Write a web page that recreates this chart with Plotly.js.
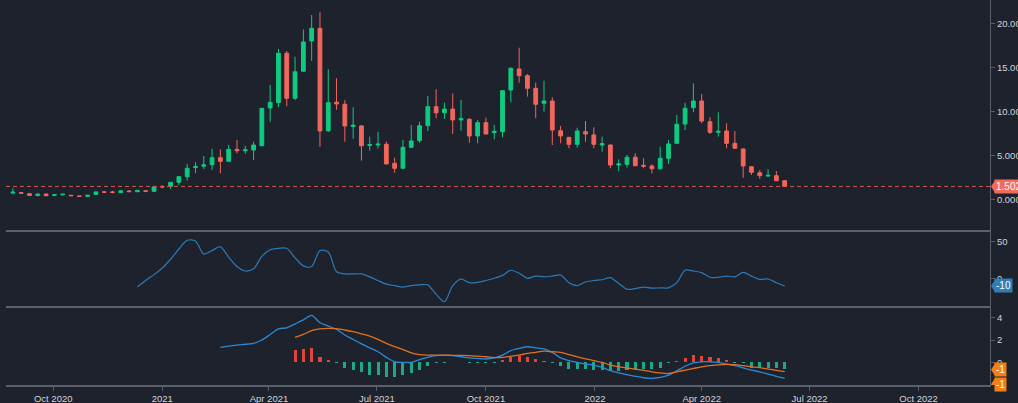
<!DOCTYPE html>
<html><head><meta charset="utf-8">
<script src="https://cdn.plot.ly/plotly-3.0.1.min.js"></script>
<style>html,body{margin:0;padding:0;background:#1e222d;}#chart{width:1018px;height:403px;}</style>
</head><body><div id="chart"></div>
<script>
const dates = ['2020-08-28','2020-09-04','2020-09-11','2020-09-18','2020-09-25','2020-10-02','2020-10-09','2020-10-16','2020-10-23','2020-10-30',
'2020-11-06','2020-11-13','2020-11-20','2020-11-27','2020-12-04','2020-12-11','2020-12-18','2020-12-25','2021-01-01','2021-01-08',
'2021-01-15','2021-01-22','2021-01-29','2021-02-05','2021-02-12','2021-02-19','2021-02-26','2021-03-05','2021-03-12','2021-03-19',
'2021-03-26','2021-04-02','2021-04-09','2021-04-16','2021-04-23','2021-04-30','2021-05-07','2021-05-14','2021-05-21','2021-05-28',
'2021-06-04','2021-06-11','2021-06-18','2021-06-25','2021-07-02','2021-07-09','2021-07-16','2021-07-23','2021-07-30','2021-08-06',
'2021-08-13','2021-08-20','2021-08-27','2021-09-03','2021-09-10','2021-09-17','2021-09-24','2021-10-01','2021-10-08','2021-10-15',
'2021-10-22','2021-10-29','2021-11-05','2021-11-12','2021-11-19','2021-11-26','2021-12-03','2021-12-10','2021-12-17','2021-12-24',
'2021-12-31','2022-01-07','2022-01-14','2022-01-21','2022-01-28','2022-02-04','2022-02-11','2022-02-18','2022-02-25','2022-03-04',
'2022-03-11','2022-03-18','2022-03-25','2022-04-01','2022-04-08','2022-04-15','2022-04-22','2022-04-29','2022-05-06','2022-05-13',
'2022-05-20','2022-05-27','2022-06-03','2022-06-10'];

const open = [0.75,0.80,0.68,0.48,0.65,0.50,0.55,0.50,0.42,0.38,
0.60,0.88,0.87,0.80,0.98,0.90,1.00,0.95,1.50,1.52,
1.97,2.60,3.65,3.80,3.97,4.76,4.35,5.70,5.55,5.63,
6.12,10.40,11.00,16.60,11.50,14.56,18.00,19.43,7.80,11.05,
10.82,8.30,8.36,6.15,6.20,6.28,4.13,3.56,5.94,6.69,
8.39,10.54,9.86,10.28,9.04,9.12,7.22,8.73,7.60,7.71,
12.44,14.82,14.06,12.63,10.93,11.19,7.82,7.07,6.28,7.71,
7.34,6.20,6.20,3.93,4.01,4.81,3.90,3.82,3.50,4.69,
6.39,8.58,10.43,11.19,8.84,7.64,7.79,6.39,5.75,3.74,
3.06,2.68,2.72,2.15];
const high = [1.30,0.82,0.70,0.66,0.66,0.58,0.64,0.52,0.44,0.52,
0.90,1.00,1.00,1.10,1.10,1.10,1.08,1.46,1.65,2.00,
2.65,4.05,4.24,4.95,5.78,5.71,6.20,6.77,6.10,6.58,
10.40,13.00,17.10,16.86,16.20,19.30,20.94,21.25,14.80,13.76,
11.30,10.48,8.47,7.14,7.70,6.58,4.76,6.77,8.47,8.84,
11.76,12.52,11.00,12.06,11.30,9.23,9.04,9.30,8.47,12.40,
15.00,17.23,14.25,13.27,13.49,11.61,8.36,7.10,8.16,8.92,
8.21,7.14,6.25,4.58,5.07,5.26,4.69,4.01,6.01,6.77,
9.60,11.00,13.20,11.98,9.34,9.91,8.66,7.79,5.80,3.80,
3.37,3.45,3.25,2.20];
const low = [0.62,0.72,0.42,0.38,0.42,0.38,0.50,0.43,0.36,0.36,
0.58,0.75,0.72,0.78,0.82,0.88,0.85,0.92,1.30,1.18,
1.67,2.15,3.00,3.48,3.37,3.00,4.30,5.26,5.20,4.50,
6.10,8.84,10.50,10.60,11.30,14.50,15.73,6.00,7.70,10.20,
6.58,6.90,4.42,5.56,5.80,4.00,3.06,3.48,5.83,6.46,
7.79,9.23,9.15,7.45,7.80,6.46,6.39,7.40,6.85,7.07,
11.04,13.27,11.68,9.23,9.98,6.20,6.39,5.83,5.90,6.58,
5.83,5.44,3.56,3.25,3.63,3.80,3.56,2.99,3.45,4.05,
6.35,7.90,9.91,8.66,7.45,7.14,5.83,5.75,2.49,2.80,
2.35,2.60,2.10,1.45];
const close = [0.85,0.74,0.48,0.64,0.45,0.56,0.62,0.45,0.38,0.50,
0.88,0.85,0.84,1.00,0.92,1.05,0.95,1.44,1.45,1.97,
2.61,3.56,3.75,3.95,4.76,4.35,5.71,5.55,5.65,6.20,
10.36,11.04,16.60,11.50,14.50,17.88,19.43,7.79,11.00,10.85,
8.36,8.45,6.12,6.25,6.30,4.05,3.56,5.94,6.66,8.39,
10.54,9.86,10.28,9.04,9.20,7.22,8.73,7.45,7.75,12.36,
14.90,14.06,12.63,10.82,11.19,7.90,7.22,6.28,7.79,7.45,
6.28,6.35,3.93,4.05,4.81,3.85,3.80,3.51,4.69,6.32,
8.55,10.36,11.19,8.92,7.64,7.75,6.39,5.83,3.82,3.10,
2.72,2.76,2.15,1.502];

// oscillator (panel 2), starts at candle index 15
const oscStart = 15;
const oscValues = [-12,-3,5,14,26,40,52,51,33,38,
43,29,16,10,13,30,39,41,41,28,
17,16,38,36,9,6,6,6,2,-3,
-8,-10,-12,-10,-9,-9,-22,-32,-10,-1,
-6,-5.5,-3,0,4,11,7,0,3,2,
3,4.5,-6,-10,-5,-3,-2,1,-7,-15,
-14,-12,-13.5,-13,-13,-6,11,10,7.7,1.4,
1.4,3,2,8,3,-1.4,-1,-6,-10.4];

// MACD (panel 3)
const macdStart = 25;
const macdValues = [1.35,1.45,1.55,1.62,1.7,2.0,2.5,3.0,3.1,3.45,
3.8,4.2,3.55,3.25,2.95,2.45,2.05,1.65,1.3,0.95,
0.45,0.05,0.0,0.0,0.25,0.45,0.6,0.65,0.6,0.5,
0.4,0.35,0.3,0.4,0.65,1.05,1.25,1.4,1.3,1.2,
0.9,0.4,0.15,0.0,-0.15,-0.25,-0.45,-0.75,-0.95,-1.1,
-1.25,-1.38,-1.43,-1.35,-1.15,-0.75,-0.35,-0.05,0.05,0.05,
0.0,-0.15,-0.3,-0.5,-0.7,-0.85,-1.05,-1.25,-1.43];
const signalStart = 34;
const signalValues = [2.24,2.5,2.85,3.0,3.05,3.02,2.9,2.75,2.55,2.35,
2.05,1.7,1.4,1.15,0.85,0.7,0.65,0.65,0.65,0.63,
0.62,0.6,0.55,0.5,0.43,0.45,0.55,0.65,0.8,0.9,
1.0,0.95,0.9,0.7,0.5,0.32,0.15,0.0,-0.25,-0.4,
-0.5,-0.6,-0.72,-0.85,-0.95,-1.0,-0.85,-0.7,-0.55,-0.4,
-0.3,-0.22,-0.18,-0.2,-0.3,-0.4,-0.48,-0.6,-0.72,-0.84];
const histValues = [1.1,1.2,1.3,0.5,0.2,-0.03,-0.48,-0.7,-0.9,-1.14,
-1.14,-1.3,-1.35,-1.14,-0.93,-0.7,-0.33,-0.1,-0.02,0,
0,-0.08,-0.08,-0.08,-0.1,0.2,0.45,0.6,0.45,0.27,
0.15,-0.05,-0.3,-0.6,-0.6,-0.6,-0.7,-0.7,-0.75,-0.75,
-0.7,-0.7,-0.63,-0.6,-0.48,-0.1,0.15,0.42,0.66,0.6,
0.45,0.36,0.2,-0.05,-0.1,-0.48,-0.54,-0.54,-0.54,-0.6];

const xTickVals = ['2020-10-01','2021-01-01','2021-04-01','2021-07-01','2021-10-01','2022-01-01','2022-04-01','2022-07-01','2022-10-01'];
const xTickText = ['Oct 2020','2021','Apr 2021','Jul 2021','Oct 2021','2022','Apr 2022','Jul 2022','Oct 2022'];

const GREEN = '#0ecb81', RED = '#f2665c';
const DAY = 86400000;
const axisCol = '#5a5e6a';
const txtCol = '#d1d4dc';
const FONT = 'Liberation Sans, Arial, sans-serif';

const traces = [
  {type:'candlestick', x:dates, open:open, high:high, low:low, close:close,
   xaxis:'x', yaxis:'y', whiskerwidth:0,
   increasing:{line:{color:GREEN,width:1}, fillcolor:GREEN},
   decreasing:{line:{color:RED,width:1}, fillcolor:RED}, hoverinfo:'skip'},
  {type:'scatter', mode:'lines', x:dates.slice(oscStart), y:oscValues, xaxis:'x', yaxis:'y2',
   line:{color:'#2b7bb9', width:1.2, shape:'spline', smoothing:0.8}, hoverinfo:'skip'},
  {type:'bar', x:dates.slice(signalStart), y:histValues, xaxis:'x', yaxis:'y3', width:2.6*DAY,
   marker:{color:histValues.map(v => v >= 0 ? '#e0443a' : '#1fa885'), line:{width:0}}, hoverinfo:'skip'},
  {type:'scatter', mode:'lines', x:dates.slice(macdStart), y:macdValues, xaxis:'x', yaxis:'y3',
   line:{color:'#2a8ad4', width:1.3, shape:'spline', smoothing:0.8}, hoverinfo:'skip'},
  {type:'scatter', mode:'lines', x:dates.slice(signalStart), y:signalValues, xaxis:'x', yaxis:'y3',
   line:{color:'#e0701e', width:1.3, shape:'spline', smoothing:0.8}, hoverinfo:'skip'}
];

const lastClose = close[close.length-1];
const lastOsc = oscValues[oscValues.length-1];
const lastMacd = macdValues[macdValues.length-1];
const lastSignal = signalValues[signalValues.length-1];

const yCommon = {side:'right', anchor:'x', showgrid:false, zeroline:false, showline:true, linecolor:axisCol, linewidth:1,
  ticks:'outside', ticklen:4, tickcolor:axisCol, tickfont:{family:FONT, size:9.5, color:txtCol}, fixedrange:true};

function tag(text, yref, y, bg, yshift){
  return {xref:'paper', x:1, xanchor:'left', xshift:4, yref:yref, y:y, yshift:yshift||0, text:text, showarrow:false,
    bgcolor:bg, font:{family:FONT, color:'#ffffff', size:10}, borderpad:1, align:'left'};
}
function pointer(yref, y, col, yshift){
  const s = yshift||0;
  return {type:'path', xref:'paper', xsizemode:'pixel', xanchor:1, yref:yref, ysizemode:'pixel', yanchor:y,
    path:'M 1 '+s+' L 5 '+(s+6)+' L 5 '+(s-6)+' Z', fillcolor:col, line:{width:0}};
}

const layout = {
  width:1018, height:403,
  paper_bgcolor:'#1e222d', plot_bgcolor:'#1e222d',
  margin:{l:6, r:28, t:0, b:18},
  showlegend:false, boxgap:0.35, bargap:0,
  font:{family:FONT, size:10, color:txtCol},
  xaxis:{type:'date', range:['2020-08-22 04:00','2022-11-30 05:00'], anchor:'y3',
    tickvals:xTickVals, ticktext:xTickText, ticks:'outside', ticklen:4, tickcolor:axisCol,
    showline:true, linecolor:axisCol, linewidth:1.5, showgrid:false, zeroline:false,
    tickfont:{family:FONT, size:9.5, color:txtCol}, rangeslider:{visible:false}, fixedrange:true},
  yaxis:Object.assign({}, yCommon, {domain:[0.4,1], range:[-3.55,22.64], tickvals:[0,5,10,15,20], tickformat:'.3f'}),
  yaxis2:Object.assign({}, yCommon, {domain:[0.2026,0.4], range:[-39.2,64.6], tickvals:[0,50]}),
  yaxis3:Object.assign({}, yCommon, {domain:[0,0.2026], range:[-2.03,4.96], tickvals:[0,2,4]}),
  shapes:[
    {type:'line', xref:'paper', x0:0, x1:1, yref:'y', y0:lastClose, y1:lastClose, line:{color:'#d4554c', width:1, dash:'4px,3px'}},
    {type:'line', xref:'paper', x0:0, x1:1, yref:'paper', y0:0.4, y1:0.4, line:{color:'#9a9da6', width:1.2}},
    {type:'line', xref:'paper', x0:0, x1:1, yref:'paper', y0:0.2026, y1:0.2026, line:{color:'#9a9da6', width:1.2}},
    pointer('y', lastClose, '#f26b5b', 0),
    pointer('y2', lastOsc, '#2f7fb5', 0),
    pointer('y3', lastSignal, '#f57f17', 2),
    pointer('y3', lastMacd, '#f57f17', -6)
  ],
  annotations:[
    tag(lastClose.toFixed(3), 'y', lastClose, '#f26b5b', 0),
    tag(String(Math.round(lastOsc)), 'y2', lastOsc, '#2f7fb5', 0),
    tag(String(Math.round(lastSignal)), 'y3', lastSignal, '#f57f17', 2),
    tag(String(Math.round(lastMacd)), 'y3', lastMacd, '#f57f17', -6)
  ]
};

Plotly.newPlot('chart', traces, layout, {displayModeBar:false, staticPlot:true});
</script>
</body></html>
